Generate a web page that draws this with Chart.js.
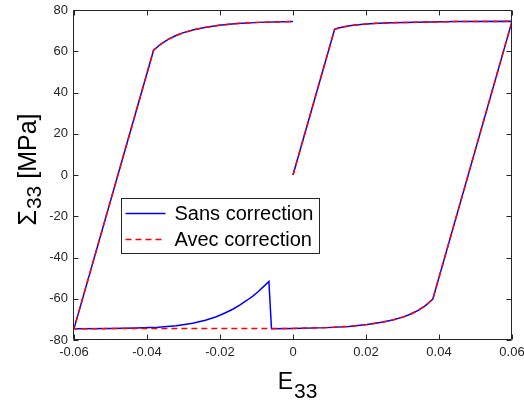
<!DOCTYPE html>
<html>
<head>
<meta charset="utf-8">
<script src="https://cdn.jsdelivr.net/npm/chart.js@4"></script>
<style>
  html, body { margin: 0; padding: 0; background: #fff; }
</style>
</head>
<body>
<canvas id="myChart" width="524" height="403"></canvas>
<script>
// strain E33 / stress S33 [MPa], branch by branch

// first loading, top plateau, unloading and bottom-right hardening
const loadStrain = [0, 0.0114, 0.0125, 0.0140, 0.0160, 0.0185, 0.0220, 0.0270, 0.0340, 0.0450, 0.06,
  0.0383, 0.0363, 0.0343, 0.0323, 0.0303, 0.0273, 0.0243, 0.0203, 0.0153, 0.0093, 0]
const loadStress = [0, 70.6, 71.3, 71.9, 72.5, 73.0, 73.4, 73.8, 74.1, 74.4, 74.5,
  -60.2, -63.3, -65.6, -67.4, -68.8, -70.3, -71.4, -72.5, -73.4, -74.0, -74.4]

// bottom branch, without correction (jump at e ~ -0.006)
const sansBottomStrain = [-0.0059, -0.0066, -0.0080, -0.0095, -0.0110, -0.0125, -0.0145, -0.0165, -0.0185,
  -0.0210, -0.0240, -0.0275, -0.0320, -0.0370, -0.0430, -0.0500, -0.06]
const sansBottomStress = [-74.5, -51.6, -54.0, -56.5, -58.7, -60.6, -63.0, -65.1, -66.8,
  -68.7, -70.4, -71.9, -73.1, -73.8, -74.2, -74.4, -74.5]

// bottom branch, with correction
const avecBottomStrain = [-0.06]
const avecBottomStress = [-74.5]

// reloading and top-left hardening
const reloadStrain = [-0.0382, -0.0362, -0.0342, -0.0322, -0.0302, -0.0272, -0.0242, -0.0202, -0.0152, -0.0092, 0]
const reloadStress = [60.5, 63.5, 65.8, 67.5, 68.9, 70.4, 71.5, 72.6, 73.5, 74.0, 74.4]

const xTicks = [-0.06, -0.04, -0.02, 0, 0.02, 0.04, 0.06]
const yTicks = [-80, -60, -40, -20, 0, 20, 40, 60, 80]
const seriesLabels = ['Sans correction', 'Avec correction']

const FONT = '"Liberation Sans", Arial, Helvetica, sans-serif'
const AXIS = '#262626'

function toPoints(xs, ys) {
  return xs.map((v, i) => ({ x: v, y: ys[i] }))
}

let sansPoints = toPoints(
  [...loadStrain, ...sansBottomStrain, ...reloadStrain],
  [...loadStress, ...sansBottomStress, ...reloadStress])
let avecPoints = toPoints(
  [...loadStrain, ...avecBottomStrain, ...reloadStrain],
  [...loadStress, ...avecBottomStress, ...reloadStress])

// box, inner ticks, axis titles with subscripts and the legend
const matlabAxes = {
  id: 'matlabAxes',
  afterDraw(chart) {
    const { ctx, chartArea: a, scales: { x, y } } = chart
    const L = Math.round(a.left) - 0.5, R = Math.round(a.right) - 0.5
    const T = Math.round(a.top) + 0.5, B = Math.round(a.bottom) - 0.5
    ctx.save()
    ctx.strokeStyle = AXIS
    ctx.lineWidth = 1
    ctx.setLineDash([])
    ctx.beginPath()
    ctx.rect(L, T, R - L, B - T)
    xTicks.forEach(v => {
      const px = Math.round(x.getPixelForValue(v)) + 0.5
      ctx.moveTo(px, B); ctx.lineTo(px, B - 5)
      ctx.moveTo(px, T); ctx.lineTo(px, T + 5)
    })
    yTicks.forEach(v => {
      const py = Math.round(y.getPixelForValue(v)) + 0.5
      ctx.moveTo(L, py); ctx.lineTo(L + 5, py)
      ctx.moveTo(R, py); ctx.lineTo(R - 5, py)
    })
    ctx.stroke()

    // x title : E_33
    ctx.fillStyle = '#000'
    ctx.textBaseline = 'alphabetic'
    ctx.textAlign = 'left'
    ctx.font = '23px ' + FONT
    const wE = ctx.measureText('E').width
    ctx.font = '21px ' + FONT
    const w33 = ctx.measureText('33').width
    let x0 = (a.left + a.right) / 2 + 4 - (wE + w33) / 2
    ctx.font = '23px ' + FONT
    ctx.fillText('E', x0, 389)
    ctx.font = '21px ' + FONT
    ctx.fillText('33', x0 + wE + 1, 398)

    // y title : Sigma_33 [MPa]
    ctx.translate(36, 170)
    ctx.rotate(-Math.PI / 2)
    ctx.font = '25px ' + FONT
    const wS = ctx.measureText('\u03A3').width
    const wM = ctx.measureText(' [MPa]').width
    ctx.font = '21px ' + FONT
    const wSub = ctx.measureText('33').width
    let s0 = -(wS + wSub + wM) / 2
    ctx.font = '25px ' + FONT
    ctx.fillText('\u03A3', s0, 0)
    ctx.fillText(' [MPa]', s0 + wS + wSub + 1, 0)
    ctx.font = '21px ' + FONT
    ctx.fillText('33', s0 + wS + 1, 5)
    ctx.restore()

    // legend
    ctx.save()
    const lx = a.left + 47.5, ly = a.top + 188.5
    ctx.fillStyle = '#fff'
    ctx.fillRect(lx, ly, 198, 55)
    ctx.strokeStyle = AXIS
    ctx.lineWidth = 1
    ctx.strokeRect(lx, ly, 198, 55)
    const rows = [
      { label: seriesLabels[0], color: '#0000ff', dash: [] },
      { label: seriesLabels[1], color: '#ff0000', dash: [6, 4] }
    ]
    rows.forEach((r, i) => {
      const ry = ly + 15 + i * 26
      ctx.strokeStyle = r.color
      ctx.lineWidth = 1.5
      ctx.setLineDash(r.dash)
      ctx.beginPath()
      ctx.moveTo(lx + 4, ry); ctx.lineTo(lx + 44, ry)
      ctx.stroke()
      ctx.setLineDash([])
      ctx.fillStyle = '#000'
      ctx.font = '20px ' + FONT
      ctx.textBaseline = 'middle'
      ctx.fillText(r.label, lx + 53, ry + 1)
    })
    ctx.restore()
  }
}

const ctx = document.getElementById('myChart')
const myChart = new Chart(ctx, {
  type: 'scatter',
  data: {
    datasets: [{
      label: seriesLabels[0],
      data: sansPoints,
      showLine: true,
      borderColor: '#0000ff',
      borderWidth: 1.5,
      pointRadius: 0,
      tension: 0,
      order: 1
    },
    {
      label: seriesLabels[1],
      data: avecPoints,
      showLine: true,
      borderColor: '#ff0000',
      borderWidth: 1.5,
      borderDash: [6, 4],
      pointRadius: 0,
      tension: 0,
      order: 0
    }]
  },
  options: {
    responsive: false,
    animation: false,
    layout: { padding: { left: 0, top: 10, right: 12, bottom: 0 } },
    plugins: {
      legend: { display: false },
      tooltip: { enabled: false }
    },
    scales: {
      x: {
        type: 'linear',
        min: -0.06,
        max: 0.06,
        afterBuildTicks: s => { s.ticks = xTicks.map(v => ({ value: v })) },
        afterFit: s => { s.height = 63; s.paddingLeft = 0; s.paddingRight = 0 },
        grid: { display: false, drawTicks: false },
        border: { display: false },
        ticks: {
          padding: 5,
          color: AXIS,
          maxRotation: 0,
          autoSkip: false,
          font: { family: FONT, size: 13 },
          callback: v => v === 0 ? '0' : v.toFixed(2)
        }
      },
      y: {
        type: 'linear',
        min: -80,
        max: 80,
        afterBuildTicks: s => { s.ticks = yTicks.map(v => ({ value: v })) },
        afterFit: s => { s.width = 74; s.paddingTop = 0; s.paddingBottom = 0 },
        grid: { display: false, drawTicks: false },
        border: { display: false },
        ticks: {
          padding: 6,
          color: AXIS,
          autoSkip: false,
          font: { family: FONT, size: 13 },
          callback: v => String(v)
        }
      }
    }
  },
  plugins: [matlabAxes]
})
</script>
</body>
</html>
